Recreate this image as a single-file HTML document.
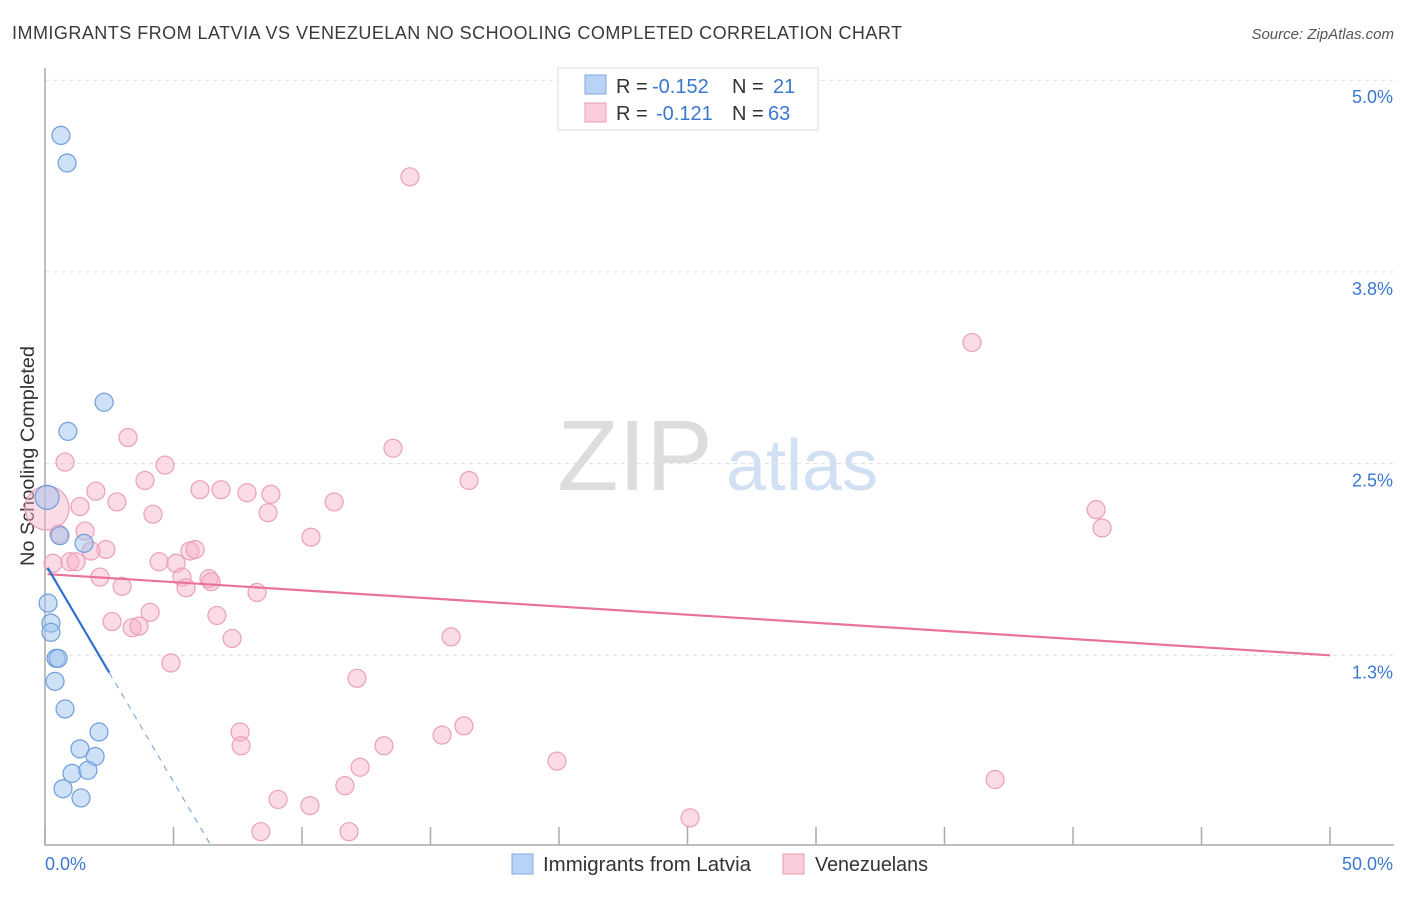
<!DOCTYPE html>
<html><head><meta charset="utf-8"><style>
body{margin:0;background:#fff;font-family:"Liberation Sans",sans-serif;}
svg text{font-family:"Liberation Sans",sans-serif;}
</style></head><body>
<svg id="chart" width="1406" height="892" xmlns="http://www.w3.org/2000/svg">
<text x="12" y="39" font-size="18" fill="#3a3a3a" textLength="890" lengthAdjust="spacing">IMMIGRANTS FROM LATVIA VS VENEZUELAN NO SCHOOLING COMPLETED CORRELATION CHART</text>
<text x="1394" y="39" font-size="15" fill="#555" text-anchor="end" font-style="italic">Source: ZipAtlas.com</text>
<text transform="translate(34,456) rotate(-90)" font-size="19" fill="#333" text-anchor="middle" textLength="220" lengthAdjust="spacingAndGlyphs">No Schooling Completed</text>
<g>
<text x="635" y="490" font-size="100" fill="#d0d0d0" text-anchor="middle" font-family="Liberation Serif" opacity="0.7">ZIP</text>
<text x="802" y="490" font-size="72" fill="#b5cdec" text-anchor="middle" opacity="0.6">atlas</text>
</g>
<g id="grid"></g><g id="axes"></g><g id="marks"></g>
<g>
<rect x="558" y="68" width="260" height="62" fill="#fff" stroke="#ddd"/>
<rect x="585" y="75" width="21" height="19" fill="#b8d3f5" stroke="#7ea9e0"/>
<text x="616" y="93" font-size="20" fill="#333">R =</text><text x="652" y="93" font-size="20" fill="#3b78d0">-0.152</text>
<text x="732" y="93" font-size="20" fill="#333">N =</text><text x="773" y="93" font-size="20" fill="#3b78d0">21</text>
<rect x="585" y="103" width="21" height="19" fill="#f9cdd9" stroke="#ec9ab1"/>
<text x="616" y="120" font-size="20" fill="#333">R =</text><text x="656" y="120" font-size="20" fill="#3b78d0">-0.121</text>
<text x="732" y="120" font-size="20" fill="#333">N =</text><text x="768" y="120" font-size="20" fill="#3b78d0">63</text>
</g>
<g>
<rect x="512" y="854" width="21" height="20" fill="#b8d3f5" stroke="#7ea9e0"/>
<text x="543" y="871" font-size="20" fill="#333" textLength="208" lengthAdjust="spacingAndGlyphs">Immigrants from Latvia</text>
<rect x="783" y="854" width="21" height="20" fill="#f9cdd9" stroke="#ec9ab1"/>
<text x="815" y="871" font-size="20" fill="#333" textLength="113" lengthAdjust="spacingAndGlyphs">Venezuelans</text>
</g>
</svg>
<script>
const yTicks=[1.25,2.5,3.75,5.0];
const yTickLabels=["1.3%","2.5%","3.8%","5.0%"];
const xTicks=[0,5,10,15,20,25,30,35,40,45,50];
const latviaX=[0.62,0.86,2.30,0.89,0.08,0.58,1.52,0.12,0.23,0.23,0.43,0.51,0.39,0.78,2.10,1.36,1.95,1.05,1.67,0.70,1.40];
const latviaY=[4.64,4.46,2.90,2.71,2.28,2.03,1.98,1.59,1.46,1.40,1.23,1.23,1.08,0.90,0.75,0.64,0.59,0.48,0.50,0.38,0.32];
const venX=[14.20,36.07,3.23,0.78,4.67,13.54,16.50,3.89,1.98,6.03,6.85,7.86,8.79,2.80,11.25,1.36,4.20,8.68,40.90,41.13,0.08,0.54,1.56,10.35,2.37,1.79,5.64,5.84,0.97,1.21,0.31,4.44,5.10,5.33,2.14,6.38,6.46,5.49,3.00,8.25,4.09,6.69,2.61,3.39,3.66,7.28,15.80,4.90,12.14,7.59,16.30,15.45,7.63,13.19,19.92,12.26,36.97,11.67,9.07,10.31,25.10,8.40,11.83];
const venY=[4.37,3.29,2.67,2.51,2.49,2.60,2.39,2.39,2.32,2.33,2.33,2.31,2.30,2.25,2.25,2.22,2.17,2.18,2.20,2.08,2.21,2.04,2.06,2.02,1.94,1.93,1.93,1.94,1.86,1.86,1.85,1.86,1.85,1.76,1.76,1.75,1.73,1.69,1.70,1.66,1.53,1.51,1.47,1.43,1.44,1.36,1.37,1.20,1.10,0.75,0.79,0.73,0.66,0.66,0.56,0.52,0.44,0.40,0.31,0.27,0.19,0.10,0.10];
const latviaTrend=[1.85,-0.285];
const venTrend=[1.78,-0.0106];
const NS="http://www.w3.org/2000/svg";
const X=v=>45+v/50*1285, Y=v=>847-v/1.25*191.7;
function mk(tag,parent,attrs){const e=document.createElementNS(NS,tag);for(const k in attrs)e.setAttribute(k,attrs[k]);parent.appendChild(e);return e;}
const grid=document.getElementById('grid'),axes=document.getElementById('axes'),marks=document.getElementById('marks');
yTicks.forEach((t,i)=>{
 const l=mk('line',grid,{x1:45,x2:1394,y1:Y(t),y2:Y(t),stroke:'#ddd','stroke-dasharray':'4,4'});
 
 
 const tx=mk('text',grid,{x:1393,y:Y(t)+23,'font-size':18,fill:'#3b78d0','text-anchor':'end'});
 tx.textContent=yTickLabels[i];
 
 
});
const ax=mk('path',axes,{d:'M45,68V845H1394',fill:'none',stroke:'#aaa','stroke-width':1.5});


xTicks.forEach(t=>{const l=mk('line',axes,{x1:X(t),x2:X(t),y1:827,y2:845,stroke:'#aaa','stroke-width':1.5});
 
 });
[[0,'0.0%','start',45],[50,'50.0%','end',1393]].forEach(a=>{const tx=mk('text',axes,{x:a[3],y:870,'font-size':18,fill:'#3b78d0','text-anchor':a[2]});tx.textContent=a[1];
 
 });
venX.forEach((x,i)=>{const r=(i==20)?22:9;const c=mk('circle',marks,{cx:X(x),cy:Y(venY[i]),r:r,fill:'rgba(246,176,198,0.45)',stroke:'#eba0b7','stroke-width':1.2});
 
 });
latviaX.forEach((x,i)=>{const r=(i==4)?12:9;const c=mk('circle',marks,{cx:X(x),cy:Y(latviaY[i]),r:r,fill:'rgba(160,195,240,0.5)',stroke:'#6f9edc','stroke-width':1.2});
 
 });
const pl=mk('line',marks,{x1:X(0.1),y1:Y(venTrend[0]+venTrend[1]*0.1),x2:X(50),y2:Y(venTrend[0]+venTrend[1]*50),stroke:'#e8739a','stroke-width':2.2});


const bl=mk('line',marks,{x1:X(0.1),y1:Y(latviaTrend[0]+latviaTrend[1]*0.1),x2:X(2.5),y2:Y(latviaTrend[0]+latviaTrend[1]*2.5),stroke:'#2f6fd0','stroke-width':2.2});


const xe=-latviaTrend[0]/latviaTrend[1];
const bd=mk('line',marks,{x1:X(2.5),y1:Y(latviaTrend[0]+latviaTrend[1]*2.5),x2:X(xe),y2:Y(0),stroke:'#6f9edc','stroke-width':1,'stroke-dasharray':'6,6'});


</script>
</body></html>
